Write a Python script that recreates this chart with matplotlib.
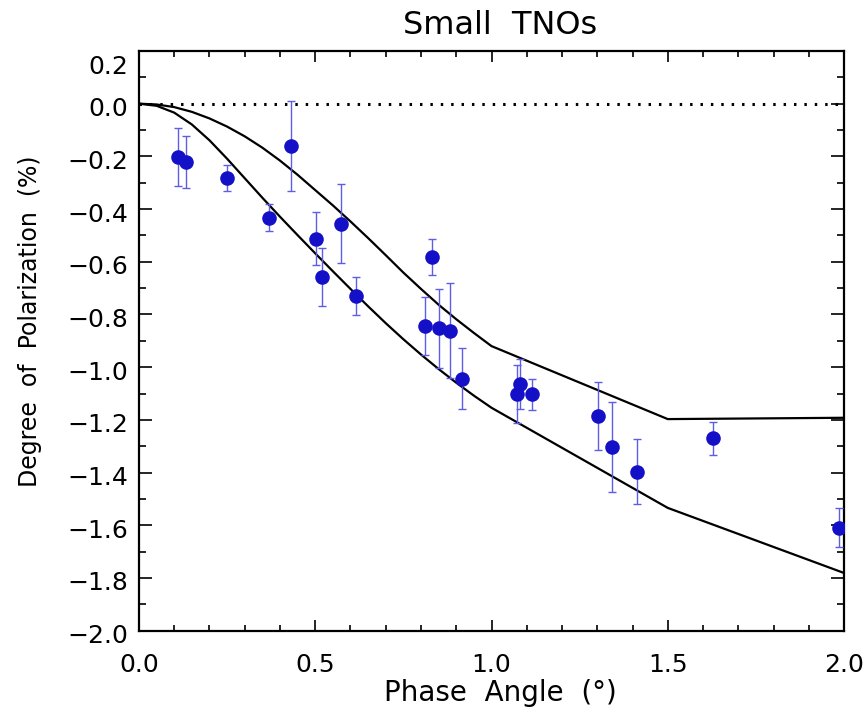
import matplotlib
matplotlib.use("Agg")
import matplotlib.pyplot as plt
import matplotlib.transforms as mtransforms
from matplotlib.ticker import MultipleLocator

# ---- data ----
phase = [0.111, 0.134, 0.249, 0.370, 0.431, 0.501, 0.520, 0.573, 0.616,
         0.812, 0.832, 0.851, 0.882, 0.917, 1.071, 1.082, 1.116, 1.302,
         1.343, 1.414, 1.627, 1.987]
pol = [-0.202, -0.221, -0.281, -0.432, -0.161, -0.512, -0.658, -0.456, -0.729,
       -0.843, -0.582, -0.852, -0.862, -1.043, -1.102, -1.064, -1.103, -1.186,
       -1.304, -1.397, -1.270, -1.610]
pol_err = [0.11, 0.10, 0.05, 0.05, 0.17, 0.10, 0.11, 0.15, 0.072,
           0.11, 0.07, 0.15, 0.18, 0.116, 0.11, 0.095, 0.058, 0.13,
           0.17, 0.123, 0.063, 0.074]

model_x = [0.0, 0.05, 0.1, 0.15, 0.2, 0.25, 0.3, 0.35, 0.4, 0.45, 0.5,
           0.55, 0.6, 0.65, 0.7, 0.75, 0.8, 0.85, 0.9, 0.95, 1.0, 1.5, 2.0]
model_upper = [0.0, -0.003, -0.013, -0.031, -0.056, -0.087, -0.124, -0.167,
               -0.216, -0.270, -0.328, -0.386, -0.447, -0.510, -0.575, -0.641,
               -0.703, -0.763, -0.818, -0.870, -0.920, -1.197, -1.192]
model_lower = [0.0, -0.008, -0.034, -0.079, -0.139, -0.209, -0.283, -0.357,
               -0.429, -0.499, -0.568, -0.636, -0.703, -0.769, -0.833, -0.894,
               -0.952, -1.007, -1.059, -1.108, -1.154, -1.534, -1.781]

x_ticks = [0.0, 0.5, 1.0, 1.5, 2.0]
y_ticks = [0.2, 0.0, -0.2, -0.4, -0.6, -0.8, -1.0, -1.2, -1.4, -1.6, -1.8, -2.0]

# ---- figure ----
plt.rcParams['font.family'] = ['DejaVu Sans']
fig = plt.figure(figsize=(8.67, 7.18), dpi=100)
ax = fig.add_axes([0.1603, 0.1216, 0.8132, 0.8074])

ax.plot([0.0, 2.0], [0.0, 0.0], color='black', lw=2.2,
        linestyle=(0, (0.8, 2.6)), dash_capstyle='butt')
ax.plot(model_x, model_upper, color='black', lw=1.6)
ax.plot(model_x, model_lower, color='black', lw=1.6)

ax.errorbar(phase, pol, yerr=pol_err, fmt='none', ecolor='#5d5de6',
            elinewidth=1.0, capsize=3.2, capthick=1.0, zorder=3)
ax.plot(phase, pol, 'o', color='#1410c8', markersize=10.5, zorder=4,
        markeredgewidth=0)

ax.set_xlim(0.0, 2.0)
ax.set_ylim(-2.0, 0.2)
ax.set_xticks(x_ticks)
ax.set_xticklabels([f"{v:.1f}" for v in x_ticks])
ax.set_yticks(y_ticks)
ax.set_yticklabels([f"{v:.1f}".replace('-', '\u2212') for v in y_ticks])
ax.xaxis.set_minor_locator(MultipleLocator(0.1))
ax.yaxis.set_minor_locator(MultipleLocator(0.1))

ax.tick_params(axis='both', which='both', direction='in', top=True, right=True,
               width=1.2, color='black')
ax.tick_params(axis='x', which='major', length=8, pad=16, labelsize=18)
ax.tick_params(axis='x', which='minor', length=4)
ax.tick_params(axis='y', which='major', length=9.5, pad=8, labelsize=18)
ax.tick_params(axis='y', which='minor', length=5)
for s in ax.spines.values():
    s.set_linewidth(1.6)

# shift y tick labels slightly down as in the reference
for lab, v in zip(ax.get_yticklabels(), y_ticks):
    dy = -14 if v > 0.1 else -3
    lab.set_transform(lab.get_transform() +
                      mtransforms.ScaledTranslation(0, dy / 100, fig.dpi_scale_trans))

ax.set_title("Small  TNOs", fontsize=23, pad=12, x=0.512)
ax.set_xlabel("Phase  Angle  (\u00b0)", fontsize=20, labelpad=2)
ax.xaxis.set_label_coords(0.513, -0.083, transform=ax.transAxes)
ax.xaxis.label.set_va('top')
ax.set_ylabel("Degree  of  Polarization  (%)", fontsize=17)
ax.yaxis.set_label_coords(-0.137, 0.534)

fig.savefig("out.png", dpi=100)
